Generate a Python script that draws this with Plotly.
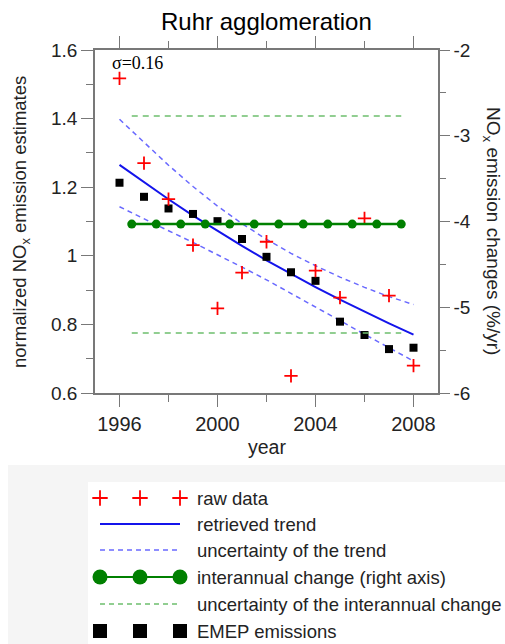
import plotly.graph_objects as go

# ---------------- data ----------------
years = [1996, 1997, 1998, 1999, 2000, 2001, 2002, 2003, 2004, 2005, 2006, 2007, 2008]
raw_data = [1.517, 1.270, 1.165, 1.031, 0.847, 0.951, 1.041, 0.650, 0.957, 0.878, 1.109, 0.884, 0.680]
emep = [1.213, 1.172, 1.138, 1.122, 1.101, 1.049, 0.997, 0.952, 0.927, 0.808, 0.769, 0.728, 0.732]
trend = [1.265, 1.214, 1.165, 1.117, 1.072, 1.029, 0.987, 0.947, 0.909, 0.872, 0.837, 0.803, 0.770]
trend_upper = [1.398, 1.330, 1.264, 1.202, 1.145, 1.094, 1.048, 1.007, 0.971, 0.938, 0.908, 0.881, 0.858]
trend_lower = [1.143, 1.107, 1.073, 1.039, 1.004, 0.967, 0.930, 0.891, 0.851, 0.811, 0.771, 0.732, 0.693]

change_years = [1996.5, 1997.5, 1998.5, 1999.5, 2000.5, 2001.5, 2002.5, 2003.5, 2004.5, 2005.5, 2006.5, 2007.5]
change = [-4.03, -4.03, -4.03, -4.03, -4.03, -4.03, -4.03, -4.03, -4.03, -4.03, -4.03, -4.03]
change_upper = [-2.77, -2.77, -2.77, -2.77, -2.77, -2.77, -2.77, -2.77, -2.77, -2.77, -2.77, -2.77]
change_lower = [-5.30, -5.30, -5.30, -5.30, -5.30, -5.30, -5.30, -5.30, -5.30, -5.30, -5.30, -5.30]

x_tick_vals = [1996, 2000, 2004, 2008]
x_tick_labels = ["1996", "2000", "2004", "2008"]
y_tick_vals = [0.6, 0.8, 1.0, 1.2, 1.4, 1.6]
y_tick_labels = ["0.6", "0.8", "1", "1.2", "1.4", "1.6"]
y2_tick_vals = [-6, -5, -4, -3, -2]
y2_tick_labels = ["-6", "-5", "-4", "-3", "-2"]

legend_labels = ["raw data", "retrieved trend", "uncertainty of the trend",
                 "interannual change (right axis)", "uncertainty of the interannual change",
                 "EMEP emissions"]

# ---------------- styles ----------------
FONT = "Liberation Sans, Arial, sans-serif"
RED = "rgb(255,0,0)"
BLUE = "rgb(20,20,235)"
LBLUE = "rgb(105,105,255)"
GREEN = "rgb(0,128,0)"
LGREEN = "rgb(110,190,110)"
AXC = "rgb(120,120,120)"
TXT = "rgb(35,35,35)"

W, H = 505, 644
ML, MR, MT, MB = 95, 67, 50, 0
PH = H - MT - MB
PW = W - ML - MR
PLOT_BOTTOM_PX = 393
LEG_TOP_PX = 465


def py(px):  # pixel y -> paper y
    return (H - MB - px) / PH


def pxx(px):  # pixel x -> paper x
    return (px - ML) / PW


fig = go.Figure()

fig.add_trace(go.Scatter(x=change_years, y=change_upper, mode="lines", yaxis="y2",
                         line=dict(color=LGREEN, width=1.5, dash="6px,5px"), showlegend=False))
fig.add_trace(go.Scatter(x=change_years, y=change_lower, mode="lines", yaxis="y2",
                         line=dict(color=LGREEN, width=1.5, dash="6px,5px"), showlegend=False))
fig.add_trace(go.Scatter(x=years, y=trend_upper, mode="lines",
                         line=dict(color=LBLUE, width=1.5, dash="5px,4px"), showlegend=False))
fig.add_trace(go.Scatter(x=years, y=trend_lower, mode="lines",
                         line=dict(color=LBLUE, width=1.5, dash="5px,4px"), showlegend=False))
fig.add_trace(go.Scatter(x=years, y=trend, mode="lines",
                         line=dict(color=BLUE, width=2), showlegend=False))
fig.add_trace(go.Scatter(x=change_years, y=change, mode="lines+markers", yaxis="y2",
                         line=dict(color=GREEN, width=2.5),
                         marker=dict(color=GREEN, size=9, symbol="circle"), showlegend=False))
fig.add_trace(go.Scatter(x=years, y=emep, mode="markers",
                         marker=dict(color="black", size=8, symbol="square"), showlegend=False))
fig.add_trace(go.Scatter(x=years, y=raw_data, mode="markers", cliponaxis=False,
                         marker=dict(color=RED, size=9.5, symbol="cross-thin",
                                     line=dict(color=RED, width=1.8)), showlegend=False))

# ---------------- hand-drawn legend (layout positions in pixels) ----------------
LEG_ROWS = [498, 524, 550, 577, 604, 631]
LEG_KEY_X = [100, 140, 180]
LEG_TEXT_X = 195


def leg_trace(ys, **kw):
    fig.add_trace(go.Scatter(x=LEG_KEY_X, y=ys, xaxis="x3", yaxis="y3", showlegend=False,
                             cliponaxis=False, hoverinfo="skip", **kw))


leg_trace([LEG_ROWS[0]] * 3, mode="markers",
          marker=dict(color=RED, size=11, symbol="cross-thin", line=dict(color=RED, width=1.8)))
leg_trace([LEG_ROWS[1]] * 3, mode="lines", line=dict(color=BLUE, width=2))
leg_trace([LEG_ROWS[2]] * 3, mode="lines", line=dict(color=LBLUE, width=1.5, dash="5px,4px"))
leg_trace([LEG_ROWS[3]] * 3, mode="lines+markers", line=dict(color=GREEN, width=2),
          marker=dict(color=GREEN, size=15))
leg_trace([LEG_ROWS[4]] * 3, mode="lines", line=dict(color=LGREEN, width=1.5, dash="5px,4px"))
leg_trace([LEG_ROWS[5]] * 3, mode="markers",
          marker=dict(color="black", size=14, symbol="square"))

annotations = []
for label, row in zip(legend_labels, LEG_ROWS):
    annotations.append(dict(text=label, x=LEG_TEXT_X, y=row, xref="x3", yref="y3",
                            xanchor="left", yanchor="middle", showarrow=False,
                            font=dict(family=FONT, size=18.5, color=TXT)))

annotations += [
    dict(text="Ruhr agglomeration", x=0.5, y=py(22), xref="paper", yref="paper",
         xanchor="center", yanchor="middle", showarrow=False,
         font=dict(family=FONT, size=24, color="black")),
    dict(text="year", x=0.5, y=py(447), xref="paper", yref="paper",
         xanchor="center", yanchor="middle", showarrow=False,
         font=dict(family=FONT, size=19.5, color=TXT)),
    dict(text="normalized NO<sub>x</sub> emission estimates", x=pxx(21), y=py(222),
         xref="paper", yref="paper", xanchor="center", yanchor="middle", textangle=-90,
         showarrow=False, font=dict(family=FONT, size=18.5, color=TXT)),
    dict(text="NO<sub>x</sub> emission changes (%/yr)", x=pxx(492), y=py(231),
         xref="paper", yref="paper", xanchor="center", yanchor="middle", textangle=90,
         showarrow=False, font=dict(family=FONT, size=19, color=TXT)),
    dict(text="σ=0.16", x=pxx(137), y=py(63), xref="paper", yref="paper",
         xanchor="center", yanchor="middle", showarrow=False,
         font=dict(family="Liberation Serif, Times New Roman, serif", size=18, color="black")),
]

shapes = [
    dict(type="rect", xref="paper", yref="paper", x0=pxx(8), x1=pxx(505), y0=0, y1=py(LEG_TOP_PX),
         fillcolor="rgb(245,245,245)", line=dict(width=0), layer="below"),
    dict(type="rect", xref="paper", yref="paper", x0=pxx(88), x1=pxx(505), y0=0, y1=py(482),
         fillcolor="white", line=dict(width=0), layer="below"),
]

xtickfont = dict(family=FONT, size=20, color=TXT)
ytickfont = dict(family=FONT, size=19, color=TXT)
main_dom = [py(PLOT_BOTTOM_PX), 1]

fig.update_layout(
    width=W, height=H,
    margin=dict(l=ML, r=MR, t=MT, b=MB, autoexpand=False),
    paper_bgcolor="white", plot_bgcolor="white",
    showlegend=False,
    xaxis=dict(domain=[0, 1], anchor="y", range=[1995, 2009],
               tickmode="array", tickvals=x_tick_vals, ticktext=x_tick_labels,
               ticks="outside", ticklen=12, tickwidth=1.3, tickcolor=AXC,
               minor=dict(tickmode="linear", tick0=1996, dtick=2, ticks="outside",
                          ticklen=7, tickwidth=1.3, tickcolor=AXC),
               showline=True, linecolor=AXC, linewidth=1.5, mirror="ticks",
               showgrid=False, zeroline=False, tickfont=xtickfont),
    yaxis=dict(domain=main_dom, anchor="x", range=[0.6, 1.6],
               tickmode="array", tickvals=y_tick_vals, ticktext=y_tick_labels,
               ticks="outside", ticklen=12, tickwidth=1.3, tickcolor=AXC,
               minor=dict(tickmode="linear", tick0=0.6, dtick=0.1, ticks="outside",
                          ticklen=7, tickwidth=1.3, tickcolor=AXC),
               showline=True, linecolor=AXC, linewidth=1.5,
               showgrid=False, zeroline=False, tickfont=ytickfont),
    yaxis2=dict(overlaying="y", side="right", anchor="x", range=[-6, -2],
                tickmode="array", tickvals=y2_tick_vals, ticktext=y2_tick_labels,
                ticks="outside", ticklen=10, tickwidth=1.3, tickcolor=AXC,
                minor=dict(tickmode="linear", tick0=-6, dtick=0.5, ticks="outside",
                           ticklen=6, tickwidth=1.3, tickcolor=AXC),
                showline=True, linecolor=AXC, linewidth=1.5,
                showgrid=False, zeroline=False, tickfont=ytickfont),
    xaxis3=dict(domain=[0, 1], anchor="y3", range=[ML, W - MR], visible=False, fixedrange=True),
    yaxis3=dict(domain=[0, py(LEG_TOP_PX)], anchor="x3", range=[H - MB, LEG_TOP_PX],
                visible=False, fixedrange=True),
    annotations=annotations,
    shapes=shapes,
)

fig.write_html("out.html")
